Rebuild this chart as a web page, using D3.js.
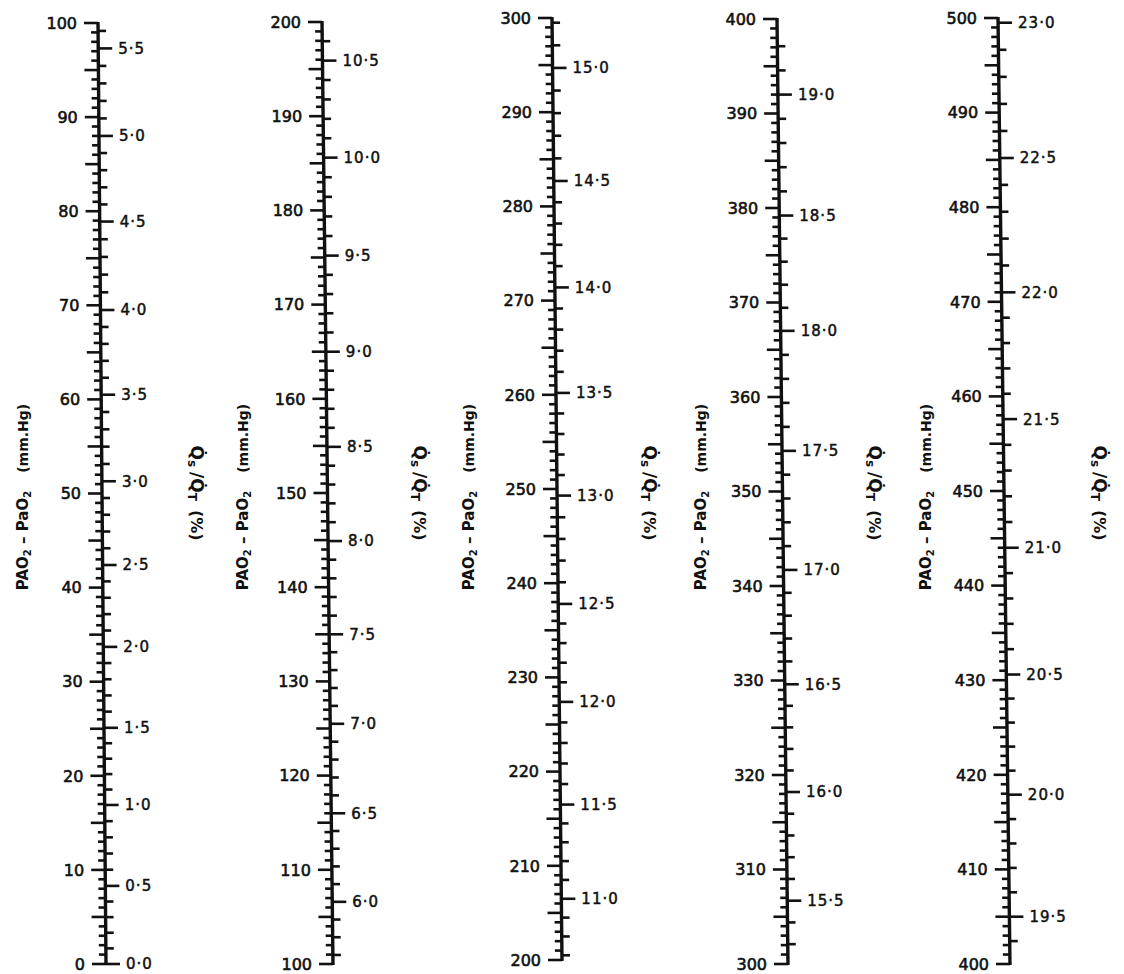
<!DOCTYPE html>
<html>
<head>
<meta charset="utf-8">
<script src="https://cdn.jsdelivr.net/npm/d3@7"></script>
<style>
body { margin: 0; background: #fff; }
svg text { font-family: "DejaVu Sans", sans-serif; fill: #111; }
</style>
</head>
<body>
<svg id="nomo" width="1124" height="974"></svg>
<script>
// PAO2 - PaO2 scales, 100 mm Hg per column
var pressureStart = [0, 100, 200, 300, 400];

// labelled shunt (Qs/Qt %) marks and the mm Hg they sit against
var shuntPct1 = [0.0, 0.5, 1.0, 1.5, 2.0, 2.5, 3.0, 3.5, 4.0, 4.5, 5.0, 5.5];
var shuntAt1 = [0, 8.3, 16.9, 25.1, 33.7, 42.4, 51.3, 60.5, 69.5, 78.9, 88.0, 97.3];
var shuntPct2 = [6.0, 6.5, 7.0, 7.5, 8.0, 8.5, 9.0, 9.5, 10.0, 10.5];
var shuntAt2 = [106.6, 116.0, 125.5, 135.0, 144.9, 154.9, 165.0, 175.2, 185.6, 195.9];
var shuntPct3 = [11.0, 11.5, 12.0, 12.5, 13.0, 13.5, 14.0, 14.5, 15.0];
var shuntAt3 = [206.5, 216.5, 227.4, 237.8, 249.3, 260.2, 271.4, 282.7, 294.7];
var shuntPct4 = [15.5, 16.0, 16.5, 17.0, 17.5, 18.0, 18.5, 19.0];
var shuntAt4 = [306.7, 318.2, 329.6, 341.7, 354.3, 367.0, 379.2, 392.0];
var shuntPct5 = [19.5, 20.0, 20.5, 21.0, 21.5, 22.0, 22.5, 23.0];
var shuntAt5 = [405.0, 417.9, 430.6, 444.0, 457.6, 471.0, 485.2, 499.5];

var shuntPctList = [shuntPct1, shuntPct2, shuntPct3, shuntPct4, shuntPct5];
var shuntAtList = [shuntAt1, shuntAt2, shuntAt3, shuntAt4, shuntAt5];

// layout (the scales were drawn by hand, slightly slanted)
var axisTopX = [98, 322, 552, 777, 998],
    axisBottomX = [106, 333, 562, 788, 1010],
    axisTopY = [23, 22, 18, 19, 18],
    axisBottomY = [964, 964, 960, 964, 964],
    leftTitleX = [22, 242, 468, 700, 925],
    rightTitleX = [197, 420, 650, 875, 1100];

var svg = d3.select("#nomo");
var fmt = d3.format(".1f");

pressureStart.forEach(function (lo, i) {
    var y = d3.scaleLinear().domain([lo, lo + 100]).range([axisBottomY[i], axisTopY[i]]);
    var xAt = d3.scaleLinear().domain([axisTopY[i], axisBottomY[i]]).range([axisTopX[i], axisBottomX[i]]);
    var shunt = d3.scaleLinear().domain(shuntPctList[i]).range(shuntAtList[i]);
    var pct = shuntPctList[i];

    var g = svg.append("g").attr("class", "scale");

    g.append("line")
        .attr("x1", xAt(y(lo + 100)))
        .attr("y1", y(lo + 100) - 1)
        .attr("x2", xAt(y(lo)))
        .attr("y2", y(lo) + 1)
        .attr("stroke", "#111")
        .attr("stroke-width", 3.4);

    // mm Hg ticks, left side
    g.append("g").selectAll("line")
        .data(d3.range(lo, lo + 101))
        .enter().append("line")
        .attr("x1", function (d) { return xAt(y(d)) - ((d % 5 == 0) ? 14 : 7); })
        .attr("x2", function (d) { return xAt(y(d)); })
        .attr("y1", function (d) { return y(d); })
        .attr("y2", function (d) { return y(d); })
        .attr("stroke", "#111")
        .attr("stroke-width", 2.6);

    g.append("g").selectAll("text")
        .data(d3.range(lo, lo + 101, 10))
        .enter().append("text")
        .attr("x", function (d) { return xAt(y(d)) - 21; })
        .attr("y", function (d) { return y(d); })
        .attr("dy", "0.36em")
        .attr("text-anchor", "end")
        .style("font-size", "16px")
        .style("stroke", "#111")
        .style("stroke-width", 0.6)
        .text(function (d) { return d; });

    // shunt ticks, right side, every 0.1 %
    var tenths = d3.range(Math.round(pct[0] * 10) - 5, Math.round(pct[pct.length - 1] * 10) + 6)
        .filter(function (t) {
            var v = shunt(t / 10);
            return t % 5 == 0 ? (v >= lo && v <= lo + 100) : (v > lo + 0.4 && v < lo + 99.6);
        });

    g.append("g").selectAll("line")
        .data(tenths)
        .enter().append("line")
        .attr("x1", function (t) { return xAt(y(shunt(t / 10))); })
        .attr("x2", function (t) { return xAt(y(shunt(t / 10))) + ((t % 5 == 0) ? 14 : 8); })
        .attr("y1", function (t) { return y(shunt(t / 10)); })
        .attr("y2", function (t) { return y(shunt(t / 10)); })
        .attr("stroke", "#111")
        .attr("stroke-width", 2.6);

    g.append("g").selectAll("text")
        .data(pct)
        .enter().append("text")
        .attr("x", function (d) { return xAt(y(shunt(d))) + 20; })
        .attr("y", function (d) { return y(shunt(d)); })
        .attr("dy", "0.36em")
        .style("font-size", "15px")
        .style("letter-spacing", "1px")
        .style("stroke", "#111")
        .style("stroke-width", 0.5)
        .text(function (d) { return fmt(d).replace(".", "\u00b7"); });

    // titles
    var lt = g.append("text")
        .attr("transform", "translate(" + (leftTitleX[i] + 6) + ",497) rotate(-90)")
        .attr("text-anchor", "middle")
        .style("font-weight", "bold")
        .style("font-size", "15px");
    lt.append("tspan").text("PAO");
    lt.append("tspan").attr("dy", 3).style("font-size", "10px").text("2");
    lt.append("tspan").attr("dy", -3).text(" \u2013 PaO");
    lt.append("tspan").attr("dy", 3).style("font-size", "10px").text("2");
    lt.append("tspan").attr("dy", -3).attr("dx", 18).style("font-size", "14px").text("(mm.Hg)");

    var rt = g.append("text")
        .attr("transform", "translate(" + (rightTitleX[i] - 6) + ",493) rotate(90)")
        .attr("text-anchor", "middle")
        .style("font-weight", "bold")
        .style("font-size", "17px");
    rt.append("tspan").text("Q\u0307");
    rt.append("tspan").attr("dy", 3).style("font-size", "12px").text("s");
    rt.append("tspan").attr("dy", -3).attr("dx", 5).text("/Q\u0307");
    rt.append("tspan").attr("dy", 3).style("font-size", "12px").text("T");
    rt.append("tspan").attr("dy", -3).attr("dx", 9).style("font-size", "16px").text("(%)");
});
</script>
</body>
</html>
